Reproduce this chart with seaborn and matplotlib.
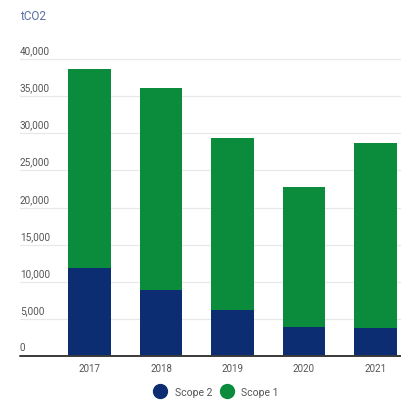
import matplotlib
matplotlib.use("Agg")
import matplotlib.pyplot as plt
import matplotlib.transforms as mtransforms
from matplotlib.lines import Line2D
import numpy as np
import pandas as pd
import seaborn as sns

# Emissions by year (tCO2)
years = ["2017", "2018", "2019", "2020", "2021"]
scope2 = [11800, 8900, 6200, 3900, 3800]
scope1 = [26800, 27200, 23200, 18800, 24900]
y_ticks = [0, 5000, 10000, 15000, 20000, 25000, 30000, 35000, 40000]
unit_label = "tCO2"

NAVY = "#0c2d72"
GREEN = "#0a8c3c"
GRID = "#e8e8e8"
TEXT = "#555555"

sns.set_theme(style="white")
plt.rcParams["font.family"] = ["Roboto", "DejaVu Sans"]

df = pd.DataFrame({"year": years, "scope2": scope2, "scope1": scope1})
df["total"] = df["scope1"] + df["scope2"]

W, H = 401, 406
fig = plt.figure(figsize=(W / 100, H / 100), dpi=100)
# axes box in pixels: left 20, bottom baseline 357, top 60, right beyond the edge
left, right, top, base = 20, 401, 60, 357
ax = fig.add_axes([left / W, (H - base) / H, (right - left) / W, (base - top) / H])

# stacked bars: total (Scope 1 on top) then Scope 2 over the bottom part
sns.barplot(data=df, x="year", y="total", color=GREEN, width=0.6,
            saturation=1, ax=ax, zorder=3)
sns.barplot(data=df, x="year", y="scope2", color=NAVY, width=0.6,
            saturation=1, ax=ax, zorder=4)
for p in ax.patches:
    p.set_edgecolor("none")

ax.set_xlim(-0.972, 4.357)
ax.set_ylim(0, 40000)
for s in ax.spines.values():
    s.set_visible(False)
ax.set_xlabel("")
ax.set_ylabel("")
ax.set_yticks([])
ax.tick_params(axis="x", length=0, pad=5, labelsize=7, labelcolor=TEXT)

# gridlines with labels sitting above them, left-aligned
trans = mtransforms.blended_transform_factory(ax.transAxes, ax.transData)
for v in y_ticks:
    if v > 0:
        ax.axhline(v, color=GRID, lw=0.9, zorder=1, clip_on=False)
    ax.text(0.0, v + 500, f"{v:,}", transform=trans, ha="left", va="bottom",
            fontsize=7.2, color=TEXT, clip_on=False)
ax.axhline(0, color="#3a3a3a", lw=1.4, zorder=5, clip_on=False)

fig.text(left / W, 1 - 16 / H, unit_label, ha="left", va="center",
         fontsize=8.5, color="#5a6ea5")

handles = [
    Line2D([], [], marker="o", ls="none", markersize=10, color=NAVY, label="Scope 2"),
    Line2D([], [], marker="o", ls="none", markersize=10, color=GREEN, label="Scope 1"),
]
fig.legend(handles=handles, loc="center", bbox_to_anchor=(217 / W, 1 - 393 / H),
           ncol=2, frameon=False, fontsize=7.5, handletextpad=0.9,
           columnspacing=0.9, labelcolor=TEXT, handlelength=1.0)

fig.savefig("out.png", dpi=100, facecolor="white")
